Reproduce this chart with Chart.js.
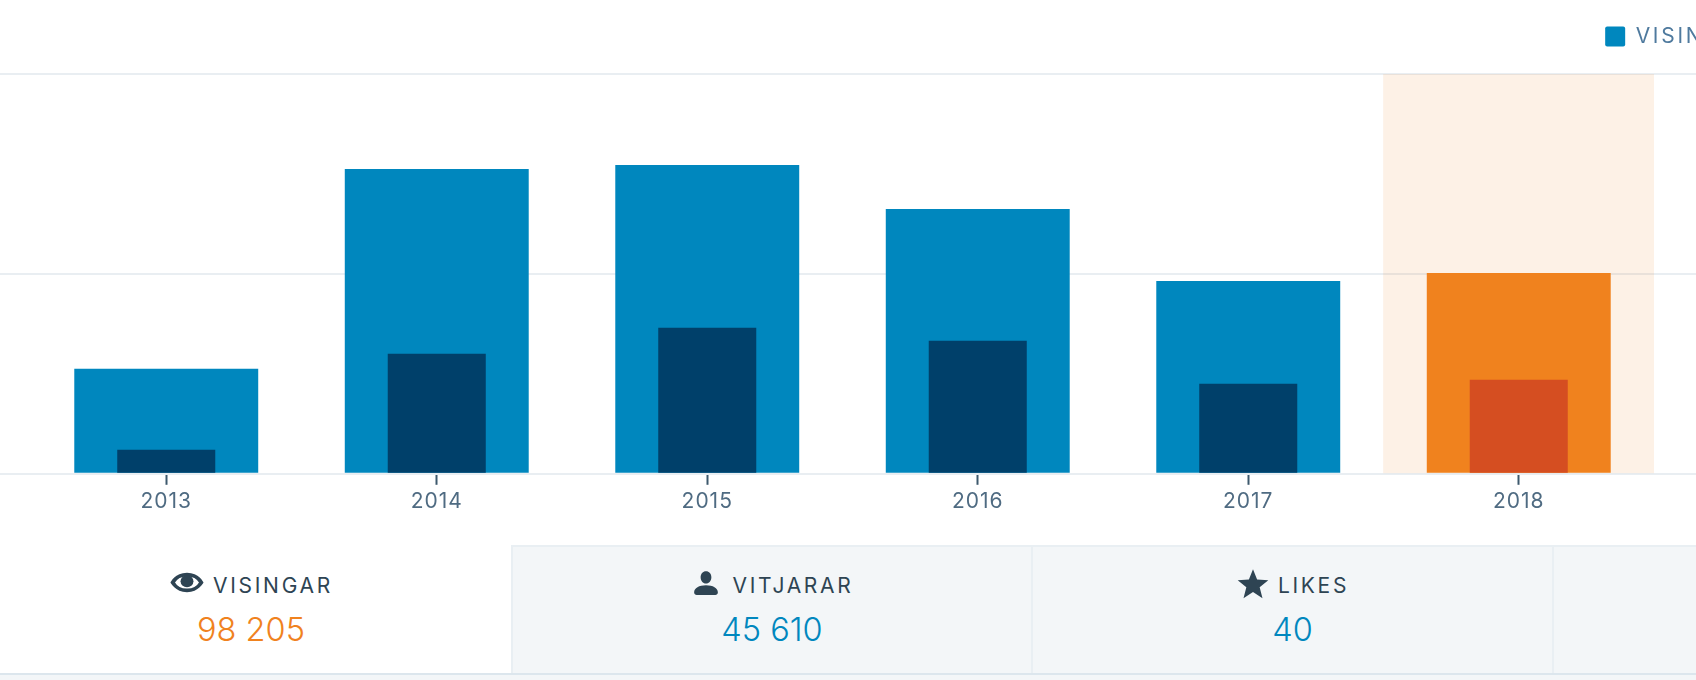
<!DOCTYPE html>
<html><head><meta charset="utf-8">
<script src="https://cdn.jsdelivr.net/npm/chart.js@4"></script>
<style>
html,body{margin:0;padding:0;background:#fff;width:1696px;height:680px;overflow:hidden;font-family:Inter,sans-serif}
#wrap{position:absolute;left:0;top:0;width:1696px;height:545px;overflow:hidden}
#panel{position:absolute;left:0;top:545px;width:1696px;border-bottom:2px solid #dce6ed;height:128px}
#below{position:absolute;left:0;top:675px;width:1696px;height:5px;background:#f3f6f8}
.tab{position:absolute;top:0;height:128px;box-sizing:border-box;background:#f3f6f8;border-top:2px solid #e9eff3;border-left:2px solid #e9eff3;text-align:center}
.tab.first{background:#fff;border-color:transparent;border-left:none}
.lab{position:absolute;left:0;right:0;top:24px;height:30px;display:flex;justify-content:center;align-items:center;color:#2e4453;font-size:21px;letter-spacing:2.7px;line-height:30px}
.lab svg{fill:#2e4453;margin-right:8px;display:block;position:relative}
.val{position:absolute;left:0;right:0;top:63px;font-size:32.500px;line-height:40px;font-weight:300}
.first .lab,.first .val{right:9px}
</style></head><body>
<div id="wrap"><canvas id="c"></canvas></div>
<div id="panel">
<div class="tab first" style="left:0;width:511px"><div class="lab"><svg style="top:-4px" width="36" height="29" viewBox="0 0 24 24" preserveAspectRatio="none"><path fill-rule="evenodd" d="M12 4C4.060 4 1 12 1 12s3.060 8 11 8 11-8 11-8-3.060-8-11-8zm0 13A8.600 8.600 0 0 1 4 12a8.600 8.600 0 0 1 8-5 8.600 8.600 0 0 1 8 5 8.600 8.600 0 0 1-8 5z"/><ellipse cx="12" cy="11" rx="4.300" ry="5"/></svg><span>VISINGAR</span></div><div class="val" style="color:#f0821e">98 205</div></div>
<div class="tab" style="left:511px;width:520px"><div class="lab"><svg style="top:-3px;margin-right:12px" width="30" height="30" viewBox="0 0 24 24"><path d="M12 2.500c2.500 0 4.300 2 4.300 4.800S14.500 12.400 12 12.400 7.700 10 7.700 7.300 9.500 2.500 12 2.500zM2.500 19.500c0-3.500 4-5.700 9.500-5.700s9.500 2.200 9.500 5.700c0 1.200-1 2-2 2h-15c-1 0-2-.8-2-2z"/></svg><span>VITJARAR</span></div><div class="val" style="color:#0087be">45 610</div></div>
<div class="tab" style="left:1031px;width:521px"><div class="lab"><svg style="top:-2px" width="34" height="34" viewBox="0 0 24 24"><path d="M12 1.500l2.900 7.400 7.900.4-6.100 5 2 7.700L12 17.700l-6.700 4.300 2-7.700-6.100-5 7.900-.4z"/></svg><span>LIKES</span></div><div class="val" style="color:#0087be">40</div></div>
<div class="tab" style="left:1552px;width:144px;border-right:none"></div>
</div>
<div id="below"></div>
<script>
const years = ['2013','2014','2015','2016','2017','2018'];
const visningar = [7875,22875,23175,19875,14475,15075];
const vitjarar = [1800,9000,10950,9975,6750,7050];
const highlight = [null,null,null,null,null,30000];
const seriesNames = ['VISINGAR','VITJARAR'];
const blue = '#0087be', navy = '#00406a', orange = '#f0821e', red = '#d54e21';
const gridColor = '#e9eef2';
const baseValue = 75;

const legendSpacing = {
  id:'legendSpacing',
  beforeLayout(chart){
    chart.ctx.letterSpacing='1px';
    const l = chart.legend;
    if(!l || l._wrapped) return;
    l._wrapped = true;
    const orig = {fit:l.fit, draw:l.draw};
    l.fit = function(){
      chart.ctx.letterSpacing='2.7px';
      orig.fit.apply(this,arguments);
      chart.ctx.letterSpacing='1px';
      this.height += 17;
    };
    l.draw = function(){
      chart.ctx.letterSpacing='2.7px';
      orig.draw.apply(this,arguments);
      chart.ctx.letterSpacing='1px';
    };
  }
};
const cv = document.getElementById('c');
cv.width = 1959; cv.height = 545;
new Chart(cv,{
  type:'bar',
  plugins:[legendSpacing],
  data:{labels:years,datasets:[
    {label:seriesNames[0],data:visningar,order:2,grouped:false,base:baseValue,barPercentage:0.68,categoryPercentage:1,
     backgroundColor:years.map((y,i)=>i===5?orange:blue)},
    {label:seriesNames[1],data:vitjarar,order:1,grouped:false,base:baseValue,barPercentage:0.3624,categoryPercentage:1,
     backgroundColor:years.map((y,i)=>i===5?red:navy)},
    {label:'highlight',data:highlight,order:3,grouped:false,barPercentage:1,categoryPercentage:1,
     backgroundColor:'rgba(240,130,30,0.11)'}
  ]},
  options:{
    responsive:false,animation:false,
    layout:{padding:{top:0,bottom:27}},
    plugins:{
      tooltip:{enabled:false},
      legend:{
        position:'top',align:'end',
        labels:{
          boxWidth:20,boxHeight:20,padding:26,useBorderRadius:true,borderRadius:2,
          color:'#4f7a9e',font:{family:'Inter',size:21},
          sort:(a,b)=>a.datasetIndex-b.datasetIndex,
          generateLabels(chart){
            return Chart.defaults.plugins.legend.labels.generateLabels(chart)
              .filter(it=>it.datasetIndex<2)
              .map(it=>({...it,fillStyle:it.datasetIndex===0?blue:navy,strokeStyle:'transparent',lineWidth:0,borderRadius:2}));
          }
        }
      }
    },
    scales:{
      x:{
        offset:true,
        grid:{drawOnChartArea:false,drawTicks:true,tickLength:11,tickColor:'#3d596d',tickWidth:2,offset:false},
        border:{display:false},
        ticks:{color:'#4f6b82',font:{family:'Inter',size:21},padding:4,maxRotation:0}
      },
      y:{
        min:0,max:30000,position:'left',
        ticks:{display:false,stepSize:15000},
        grid:{color:gridColor,lineWidth:2,tickLength:31,tickColor:gridColor,tickWidth:2},
        border:{display:false}
      },
      yRight:{
        display:true,min:0,max:30000,position:'right',
        ticks:{display:false,stepSize:15000},
        grid:{drawOnChartArea:false,tickLength:305,tickColor:gridColor,tickWidth:2,color:gridColor,lineWidth:2},
        border:{display:false}
      }
    }
  }
});
</script>
</body></html>
